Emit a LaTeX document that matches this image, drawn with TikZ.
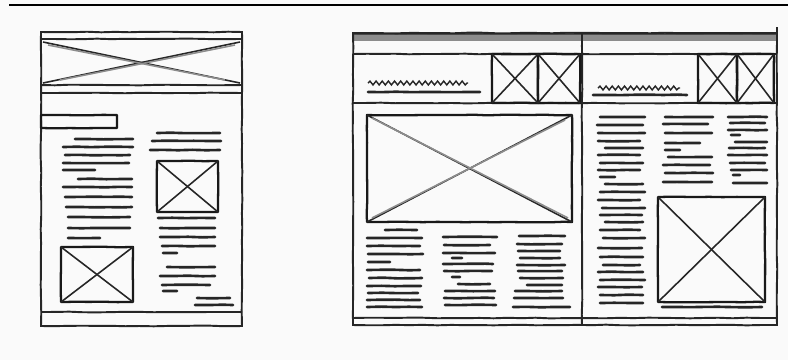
\documentclass[tikz,border=0pt]{standalone}
\usetikzlibrary{decorations.pathmorphing}

\tikzset{
  rough/.style={decorate, decoration={random steps, segment length=8pt, amplitude=0.2pt}},
  frame/.style={rough, draw=black!85, line width=1.1pt},
  txt/.style={rough, draw=black!85, line width=1.5pt, line cap=round},
  imgbox/.style={rough, draw=black!90, line width=1.3pt, line join=round},
  cross/.style={draw=black!85, line width=0.9pt},
  squiggle/.style={decorate, decoration={snake, segment length=3.5pt, amplitude=1.1pt}, draw=black!85, line width=0.8pt}
}

\begin{document}
\begin{tikzpicture}[x=0.02cm, y=-0.02cm]
        % Paper
        \fill[black!2] (0,0) rectangle (788,360);
        \useasboundingbox (0,0) rectangle (788,360);
        \draw[black, line width=1.3pt] (9,5) -- (788,5);

        % ---- Single page (left) ----
        \draw[frame] (41,32) rectangle (242,326);
        % header image
        \draw[frame] (41,39) -- (242,39);
        \draw[frame] (41,85) -- (242,85);
        \draw[frame] (41,93) -- (242,93);
        \draw[cross] (43,42) -- (240,83);
        \draw[cross] (43,83) -- (240,42);
        \draw[cross, black!45] (60,80) -- (235,45);
        \draw[cross, black!45] (48,45) -- (225,80);
        % title bar
        \draw[imgbox] (41,115) rectangle (117,128);
        % text left column
        \draw[txt] (75,139) -- (133,139) (63,147) -- (133,147) (65,155) -- (130,155)
                   (63,163) -- (129,163) (63,170) -- (95,170) (78,179) -- (132,179)
                   (63,187) -- (132,187) (65,197) -- (132,197) (66,207) -- (132,207)
                   (68,217) -- (130,217) (68,228) -- (130,228) (68,238) -- (100,238);
        % text right column
        \draw[txt] (157,133) -- (220,133) (152,141) -- (221,141) (150,150) -- (220,150);
        \draw[imgbox] (157,161) rectangle (218,212);
        \draw[cross] (157,161) -- (218,212);
        \draw[cross] (157,212) -- (218,161);
        \draw[txt] (158,218) -- (215,218) (160,228) -- (215,228) (160,237) -- (215,237)
                   (162,246) -- (215,246) (163,253) -- (177,253) (167,267) -- (215,267)
                   (160,276) -- (215,276) (162,285) -- (210,285) (163,291) -- (177,291);
        \draw[txt] (197,298) -- (230,298) (195,305) -- (233,305);
        % lower image
        \draw[imgbox] (61,247) rectangle (133,302);
        \draw[cross] (61,247) -- (133,302);
        \draw[cross] (61,302) -- (133,247);
        % footer
        \draw[frame] (41,312) -- (242,312);

        % ---- Spread (right) ----
        \fill[black!45] (353,33) rectangle (777,41);
        \draw[black!70, line width=1.2pt] (353,34) -- (777,34);
        \draw[frame] (353,33) rectangle (777,325);
        \draw[frame] (777,27) -- (777,33);
        \draw[frame] (582,33) -- (582,325);
        % header row
        \draw[frame] (353,54) -- (777,54);
        \draw[frame] (353,103) -- (777,103);
        % left header
        \draw[squiggle] (368,83) -- (468,83);
        \draw[txt] (368,92) -- (480,92);
        \draw[imgbox] (492,54) rectangle (538,103);
        \draw[imgbox] (538,54) rectangle (580,103);
        \draw[cross] (492,54) -- (538,103) (492,103) -- (538,54);
        \draw[cross] (538,54) -- (580,103) (538,103) -- (580,54);
        % right header
        \draw[squiggle] (598,88) -- (680,88);
        \draw[txt] (593,95) -- (687,95);
        \draw[imgbox] (698,54) rectangle (737,103);
        \draw[imgbox] (737,54) rectangle (774,103);
        \draw[cross] (698,54) -- (737,103) (698,103) -- (737,54);
        \draw[cross] (737,54) -- (774,103) (737,103) -- (774,54);

        % big image
        \draw[imgbox] (367,115) rectangle (572,222);
        \draw[cross] (367,115) -- (572,222);
        \draw[cross] (367,222) -- (572,115);
        \draw[cross, black!45] (372,118) -- (568,218);
        \draw[cross, black!45] (372,218) -- (565,120);
        % three columns
        \draw[txt] (385,230) -- (417,230) (367,238) -- (422,238) (367,246) -- (420,246)
                   (368,254) -- (423,254) (368,262) -- (390,262) (367,270) -- (420,270)
                   (369,278) -- (422,278) (367,286) -- (421,286) (368,293) -- (418,293)
                   (367,300) -- (420,300) (367,307) -- (422,307);
        \draw[txt] (443,237) -- (497,237) (444,245) -- (490,245) (443,253) -- (495,253)
                   (452,258) -- (462,258) (443,264) -- (493,264) (444,271) -- (492,271)
                   (452,277) -- (460,277) (458,284) -- (490,284) (445,291) -- (495,291)
                   (444,298) -- (494,298) (445,305) -- (496,305);
        \draw[txt] (519,236) -- (565,236) (517,244) -- (562,244) (518,251) -- (560,251)
                   (520,258) -- (560,258) (517,265) -- (565,265) (518,271) -- (562,271)
                   (520,278) -- (563,278) (527,285) -- (562,285) (515,291) -- (562,291)
                   (514,298) -- (563,298) (513,307) -- (570,307);

        % right half: long column
        \draw[txt] (600,117) -- (645,117) (597,125) -- (643,125) (598,133) -- (645,133)
                   (598,141) -- (640,141) (605,148) -- (643,148) (598,155) -- (640,155)
                   (600,163) -- (643,163) (598,170) -- (640,170) (600,177) -- (615,177)
                   (605,184) -- (643,184) (600,192) -- (645,192) (598,200) -- (640,200)
                   (602,208) -- (645,208) (600,215) -- (642,215) (605,222) -- (643,222)
                   (600,230) -- (640,230) (603,238) -- (645,238) (598,248) -- (642,248)
                   (600,257) -- (643,257) (603,265) -- (640,265) (598,272) -- (643,272)
                   (600,280) -- (645,280) (598,287) -- (642,287) (600,295) -- (643,295)
                   (600,303) -- (643,303);
        \draw[txt] (665,117) -- (713,117) (663,124) -- (708,124) (665,133) -- (712,133)
                   (665,143) -- (700,143) (665,150) -- (680,150) (668,157) -- (712,157)
                   (663,165) -- (710,165) (665,173) -- (713,173) (663,182) -- (712,182);
        \draw[txt] (728,117) -- (767,117) (730,123) -- (765,123) (728,130) -- (767,130)
                   (731,135) -- (740,135) (735,142) -- (767,142) (729,148) -- (765,148)
                   (728,155) -- (767,155) (730,163) -- (765,163) (731,170) -- (767,170)
                   (733,175) -- (740,175) (733,183) -- (767,183);
        % right image
        \draw[imgbox] (658,197) rectangle (765,302);
        \draw[cross] (658,197) -- (765,302);
        \draw[cross] (658,302) -- (765,197);
        \draw[txt] (662,307) -- (762,307);
        % footer
        \draw[frame] (353,318) -- (777,318);
    \end{tikzpicture}
\end{document}
